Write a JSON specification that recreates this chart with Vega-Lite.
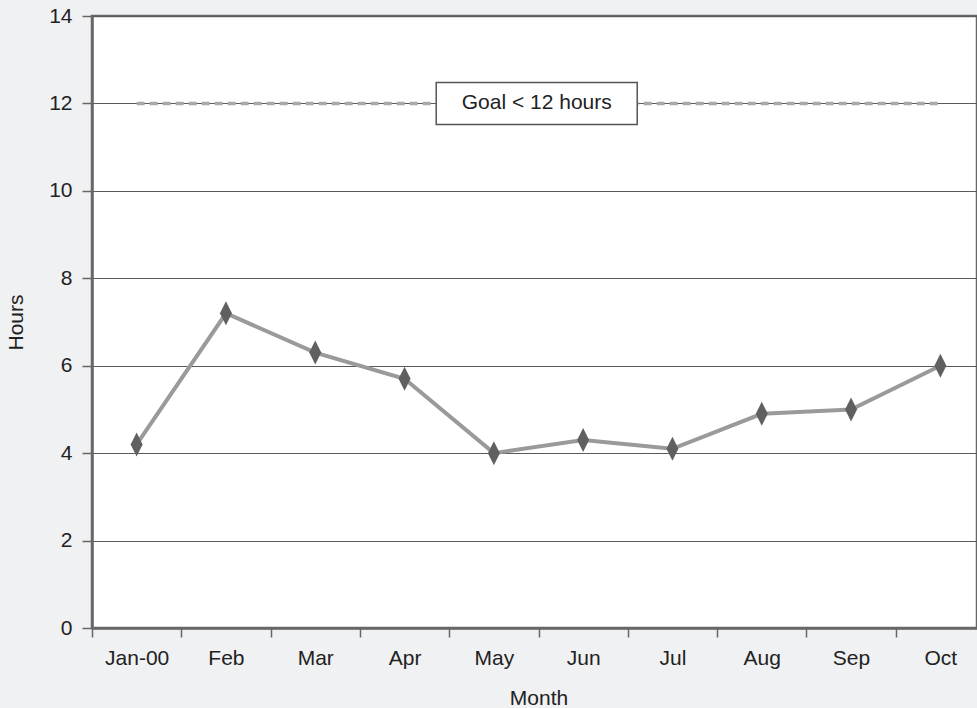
{
  "$schema": "https://vega.github.io/schema/vega-lite/v6.json",
  "width": 885,
  "height": 612,
  "autosize": {"type": "none"},
  "padding": {"left": 92, "top": 16, "right": 0, "bottom": 80},
  "background": "#f0f1f3",
  "config": {
    "font": "Liberation Sans",
    "view": {"fill": "#ffffff", "stroke": "#676767", "strokeWidth": 2.5},
    "axis": {
      "labelFont": "Liberation Sans",
      "titleFont": "Liberation Sans",
      "labelFontSize": 21,
      "titleFontSize": 21,
      "labelColor": "#222222",
      "titleColor": "#222222",
      "titleFontWeight": "normal",
      "domainColor": "#676767",
      "domainWidth": 2.5,
      "tickColor": "#676767",
      "tickWidth": 1.5,
      "gridColor": "#5a5a5a",
      "gridWidth": 1
    }
  },
  "datasets": {
    "hours": [
      {"month": "Jan-00", "hours": 4.2},
      {"month": "Feb", "hours": 7.2},
      {"month": "Mar", "hours": 6.3},
      {"month": "Apr", "hours": 5.7},
      {"month": "May", "hours": 4.0},
      {"month": "Jun", "hours": 4.3},
      {"month": "Jul", "hours": 4.1},
      {"month": "Aug", "hours": 4.9},
      {"month": "Sep", "hours": 5.0},
      {"month": "Oct", "hours": 6.0}
    ],
    "goal": [
      {"month": "Jan-00", "hours": 12},
      {"month": "Oct", "hours": 12}
    ],
    "goalLabel": [
      {"month": "May", "hours": 12, "label": "Goal < 12 hours"}
    ]
  },
  "encoding": {
    "x": {
      "field": "month",
      "type": "ordinal",
      "sort": ["Jan-00", "Feb", "Mar", "Apr", "May", "Jun", "Jul", "Aug", "Sep", "Oct"],
      "scale": {
        "domain": ["Jan-00", "Feb", "Mar", "Apr", "May", "Jun", "Jul", "Aug", "Sep", "Oct"],
        "range": [0, 893],
        "paddingInner": 0,
        "paddingOuter": 0
      },
      "axis": {
        "title": "Month",
        "labelAngle": 0,
        "tickBand": "extent",
        "tickSize": 9,
        "labelPadding": 27,
        "labelBaseline": "alphabetic",
        "titleX": 446.5,
        "titleY": 76,
        "titleBaseline": "alphabetic"
      }
    },
    "y": {
      "field": "hours",
      "type": "quantitative",
      "scale": {"domain": [0, 14], "nice": false, "zero": true},
      "axis": {
        "title": "Hours",
        "values": [0, 2, 4, 6, 8, 10, 12, 14],
        "grid": true,
        "tickSize": 10,
        "labelPadding": 10,
        "titleX": -76,
        "titleY": 306,
        "titleAngle": -90,
        "titleBaseline": "middle",
        "titleAlign": "center"
      }
    }
  },
  "layer": [
    {
      "data": {"name": "goal"},
      "mark": {"type": "line", "color": "#a9a9a9", "strokeWidth": 3.5, "strokeDash": [8, 5]}
    },
    {
      "data": {"name": "goalLabel"},
      "mark": {
        "type": "point",
        "shape": "M-1,-0.209L1,-0.209L1,0.209L-1,0.209Z",
        "size": 40401,
        "filled": true,
        "fill": "#ffffff",
        "stroke": "#555555",
        "strokeWidth": 1.5,
        "opacity": 1
      },
      "encoding": {
        "x": {
          "field": "month",
          "type": "ordinal",
          "bandPosition": 0.98
        }
      }
    },
    {
      "data": {"name": "goalLabel"},
      "mark": {
        "type": "text",
        "font": "Liberation Sans",
        "fontSize": 21,
        "color": "#222222",
        "align": "center",
        "baseline": "middle"
      },
      "encoding": {
        "x": {
          "field": "month",
          "type": "ordinal",
          "bandPosition": 0.98
        },
        "text": {"field": "label"}
      }
    },
    {
      "data": {"name": "hours"},
      "mark": {"type": "line", "color": "#9a9a9a", "strokeWidth": 4}
    },
    {
      "data": {"name": "hours"},
      "mark": {
        "type": "point",
        "shape": "M0,-1L0.5,0L0,1L-0.5,0Z",
        "size": 576,
        "filled": true,
        "color": "#606060",
        "opacity": 1
      }
    }
  ]
}
